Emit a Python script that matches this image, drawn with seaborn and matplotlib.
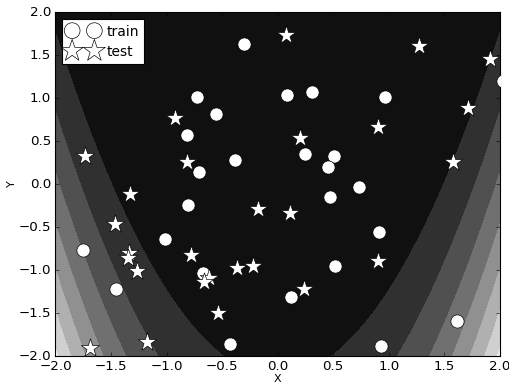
import numpy as np
import pandas as pd
import matplotlib
matplotlib.use("Agg")
import matplotlib.pyplot as plt
import seaborn as sns

# Training points
train_x = [-0.299, -0.722, -0.557, -0.812, -0.710, -0.387, -0.803, -1.016, -1.756,
           -1.456, -0.671, -0.431, 0.084, 0.308, 0.968, 0.243, 0.503, 0.452,
           0.467, 0.728, 0.909, 0.519, 0.117, 0.927, 1.615, 2.03]
train_y = [1.631, 1.008, 0.817, 0.570, 0.145, 0.283, -0.244, -0.645, -0.767,
           -1.225, -1.029, -1.860, 1.038, 1.066, 1.015, 0.349, 0.322, 0.194,
           -0.148, -0.035, -0.558, -0.957, -1.310, -1.884, -1.593, 1.198]

# Test points
test_x = [0.072, 1.274, 1.912, -0.920, 0.198, 0.899, 1.717, -1.735, -0.818,
          1.576, -1.328, -0.177, 0.108, -1.465, -0.782, -1.337, -1.351, -1.265,
          -0.362, -0.222, -0.620, -0.665, 0.902, 0.236, -0.537, -1.180, -1.690]
test_y = [1.736, 1.605, 1.450, 0.767, 0.538, 0.666, 0.884, 0.326, 0.252,
          0.259, -0.120, -0.291, -0.337, -0.465, -0.826, -0.802, -0.866, -1.017,
          -0.980, -0.957, -1.093, -1.145, -0.892, -1.221, -1.503, -1.834, -1.911]

plt.style.use("classic")
plt.rcParams["font.family"] = ["DejaVu Sans"]

# Background surface (y - x^2)^2
grid = np.linspace(-2, 2, 400)
gx, gy = np.meshgrid(grid, grid)
gz = (gx ** 2 - gy) ** 2

fig = plt.figure(figsize=(509 / 80, 385 / 80), dpi=80)
fig.patch.set_facecolor("white")
ax = fig.add_axes([0.109, 0.0753, 0.873, 0.8935])
ax.contourf(gx, gy, gz, cmap="gray")

train = pd.DataFrame({"X": train_x, "Y": train_y})
test = pd.DataFrame({"X": test_x, "Y": test_y})

sns.scatterplot(data=train, x="X", y="Y", marker="o", s=140, color="white",
                edgecolor="black", linewidth=0.6, label="train", ax=ax, zorder=3)
sns.scatterplot(data=test, x="X", y="Y", marker="*", s=300, color="white",
                edgecolor="black", linewidth=0.6, label="test", ax=ax, zorder=4)

ax.set_xlim(-2, 2)
ax.set_ylim(-2, 2)
ax.set_xlabel("X", fontsize=10)
ax.set_ylabel("Y", fontsize=10)
ax.xaxis.set_label_coords(0.5, -0.067)
ax.yaxis.set_label_coords(-0.098, 0.5)
ax.xaxis.label.set_va("center")
ax.yaxis.label.set_va("center")

ax.legend(loc="upper left", scatterpoints=2, numpoints=2, markerscale=1.2,
          scatteryoffsets=[0.5], fontsize=12.5,
          borderpad=0.4, handletextpad=0.55, labelspacing=0.45,
          borderaxespad=0.5, handlelength=2.2, fancybox=False)

fig.savefig("out.png", dpi=80, facecolor="white")
